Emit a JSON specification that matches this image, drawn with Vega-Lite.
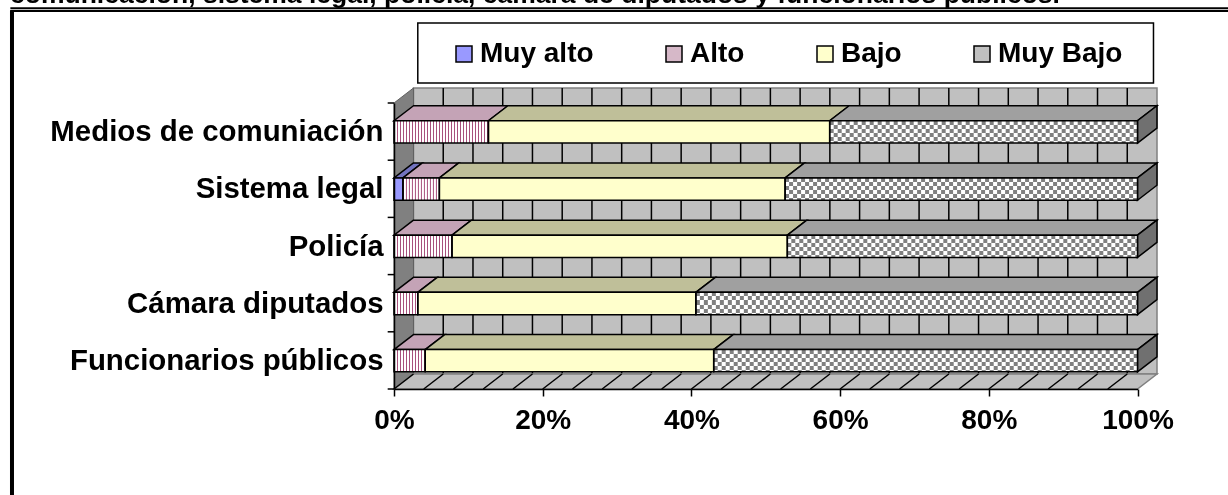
{"$schema":"https://vega.github.io/schema/vega-lite/v6.json",
"width":743.5,"height":286,"autosize":{"type":"none"},
"padding":{"left":394,"top":103,"right":90.5,"bottom":106},
"background":"white",
"config":{"view":{"stroke":null},"font":"Liberation Sans"},
"title":{"text":"comunicación, sistema legal, policía, cámara de diputados y funcionarios públicos.","anchor":"start","frame":"group","dx":-384,"offset":-22,"baseline":"alphabetic","font":"Liberation Sans","fontSize":26.5,"fontWeight":"bold","color":"black","limit":2000},
"resolve":{"axis":{"x":"independent","y":"independent"}},
"datasets":{
"grid":[{"t":0},{"t":4},{"t":8},{"t":12},{"t":16},{"t":20},{"t":24},{"t":28},{"t":32},{"t":36},{"t":40},{"t":44},{"t":48},{"t":52},{"t":56},{"t":60},{"t":64},{"t":68},{"t":72},{"t":76},{"t":80},{"t":84},{"t":88},{"t":92},{"t":96},{"t":100}],
"depth":[{"d":0},{"d":1}],
"band":[{"n":0},{"n":1},{"n":2},{"n":3},{"n":4},{"n":5}]
},
"data":{"values":[
{"cat":"Medios de comuniación","serie":"Alto","valor":12.7},
{"cat":"Medios de comuniación","serie":"Bajo","valor":45.9},
{"cat":"Medios de comuniación","serie":"Muy Bajo","valor":41.4},
{"cat":"Sistema legal","serie":"Muy alto","valor":1.2},
{"cat":"Sistema legal","serie":"Alto","valor":4.9},
{"cat":"Sistema legal","serie":"Bajo","valor":46.5},
{"cat":"Sistema legal","serie":"Muy Bajo","valor":47.4},
{"cat":"Policía","serie":"Alto","valor":7.8},
{"cat":"Policía","serie":"Bajo","valor":45.1},
{"cat":"Policía","serie":"Muy Bajo","valor":47.1},
{"cat":"Cámara diputados","serie":"Alto","valor":3.2},
{"cat":"Cámara diputados","serie":"Bajo","valor":37.4},
{"cat":"Cámara diputados","serie":"Muy Bajo","valor":59.4},
{"cat":"Funcionarios públicos","serie":"Alto","valor":4.2},
{"cat":"Funcionarios públicos","serie":"Bajo","valor":38.8},
{"cat":"Funcionarios públicos","serie":"Muy Bajo","valor":57.0}
]},
"transform":[
{"calculate":"indexof(['Muy alto','Alto','Bajo','Muy Bajo'],datum.serie)","as":"orden"},
{"stack":"valor","groupby":["cat"],"sort":[{"field":"orden","order":"ascending"}],"as":["ini","fin"]},
{"calculate":"indexof(['Funcionarios públicos','Cámara diputados','Policía','Sistema legal','Medios de comuniación'],datum.cat)","as":"i"},
{"calculate":"datum.i+0.3","as":"lo"},
{"calculate":"datum.i+0.69","as":"hi"},
{"calculate":"datum.i+0.495","as":"mid"},
{"calculate":"datum.cat+datum.serie","as":"clave"}
],
"layer":[
{"data":{"values":[{"a":-51.6,"b":112.2,"c":6.608}]},"mark":{"type":"rule","stroke":"black","strokeWidth":2},"encoding":{"x":{"field":"a","type":"quantitative","axis":null,"scale":{"domain":[0,100],"nice":false,"zero":false}},"x2":{"field":"b"},"y":{"field":"c","type":"quantitative","axis":null,"scale":{"domain":[0,5],"nice":false,"zero":false}}}},
{"data":{"values":[{"a":-51.6,"b":112.2,"c":6.655}]},"mark":{"type":"rule","stroke":"black","strokeWidth":2},"encoding":{"x":{"field":"a","type":"quantitative","axis":null},"x2":{"field":"b"},"y":{"field":"c","type":"quantitative","axis":null}}},
{"data":{"values":[{"a":-51.38,"c":6.62,"e":-1.9}]},"mark":{"type":"rule","stroke":"black","strokeWidth":4},"encoding":{"x":{"field":"a","type":"quantitative","axis":null},"y":{"field":"c","type":"quantitative","axis":null},"y2":{"field":"e"}}},
{"data":{"values":[{"a":3.2,"b":102.15,"c":6.4,"e":5.35}]},"mark":{"type":"rect","fill":"white","stroke":"black","strokeWidth":1.5},"encoding":{"x":{"field":"a","type":"quantitative","axis":null},"x2":{"field":"b"},"y":{"field":"c","type":"quantitative","axis":null},"y2":{"field":"e"}}},
{"data":{"values":[{"a":0,"b":100,"c":0,"e":5}]},"mark":{"type":"rect","fill":"#c0c0c0","stroke":"#808080","strokeWidth":1.5,"xOffset":19.5,"yOffset":-15,"x2Offset":19.5,"y2Offset":-15},"encoding":{"x":{"field":"a","type":"quantitative","axis":null},"x2":{"field":"b"},"y":{"field":"c","type":"quantitative","axis":null},"y2":{"field":"e"}}},
{"data":{"name":"grid"},"transform":[{"filter":"datum.t>0 && datum.t<100"}],"mark":{"type":"rule","stroke":"black","strokeWidth":1.5,"xOffset":19.5,"yOffset":-15,"y2Offset":-15},"encoding":{"x":{"field":"t","type":"quantitative","axis":null},"y":{"datum":0,"type":"quantitative","axis":null},"y2":{"datum":5}}},
{"data":{"name":"depth"},"transform":[{"calculate":"2.62*datum.d","as":"px"},{"calculate":"0.262*datum.d","as":"py"},{"calculate":"datum.py+5","as":"py2"}],"mark":{"type":"area","orient":"vertical","fill":"#808080","stroke":"#606060","strokeWidth":1},"encoding":{"x":{"field":"px","type":"quantitative","axis":null},"y":{"field":"py","type":"quantitative","axis":null},"y2":{"field":"py2"}}},
{"data":{"name":"depth"},"transform":[{"calculate":"2.62*datum.d","as":"px"},{"calculate":"100+datum.px","as":"px2"},{"calculate":"0.262*datum.d","as":"py"}],"mark":{"type":"area","orient":"horizontal","fill":"#c0c0c0","stroke":"#808080","strokeWidth":1.5},"encoding":{"x":{"field":"px","type":"quantitative","axis":null},"x2":{"field":"px2"},"y":{"field":"py","type":"quantitative","axis":null}}},
{"data":{"name":"grid"},"transform":[{"filter":"datum.t<100"},{"calculate":"datum.t+2.62","as":"t2"}],"mark":{"type":"rule","stroke":"black","strokeWidth":1.5},"encoding":{"x":{"field":"t","type":"quantitative","axis":null},"x2":{"field":"t2"},"y":{"datum":0,"type":"quantitative","axis":null},"y2":{"datum":0.262}}},
{"data":{"name":"band"},"transform":[{"calculate":"-0.85","as":"a"},{"calculate":"0","as":"b"}],"mark":{"type":"rule","stroke":"black","strokeWidth":1.5},"encoding":{"x":{"field":"a","type":"quantitative","axis":null},"x2":{"field":"b"},"y":{"field":"n","type":"quantitative","axis":null}}},
{"transform":[{"fold":["lo","hi"],"as":["k","v"]},{"calculate":"datum.k=='hi'?1:0","as":"d"},{"calculate":"datum.hi+0.262*datum.d","as":"ty"},{"calculate":"datum.ini+2.62*datum.d","as":"tx"},{"calculate":"datum.fin+2.62*datum.d","as":"tx2"}],"mark":{"type":"area","orient":"horizontal","stroke":"black","strokeWidth":1.5},"encoding":{"x":{"field":"tx","type":"quantitative","axis":null},"x2":{"field":"tx2"},"y":{"field":"ty","type":"quantitative","axis":null},"detail":{"field":"clave"},"fill":{"condition":[{"test":"datum.serie=='Muy alto'","value":"#7373bf"},{"test":"datum.serie=='Alto'","value":"#c4a3b6"},{"test":"datum.serie=='Bajo'","value":"#bfbf99"}],"value":"#a0a0a0"}}},
{"transform":[{"filter":"datum.serie=='Muy Bajo'"},{"fold":["lo","hi"],"as":["k","v"]},{"calculate":"datum.k=='hi'?1:0","as":"d"},{"calculate":"100+2.62*datum.d","as":"sx"},{"calculate":"datum.lo+0.262*datum.d","as":"sy"},{"calculate":"datum.hi+0.262*datum.d","as":"sy2"}],"mark":{"type":"area","orient":"vertical","fill":"#707070","stroke":"black","strokeWidth":1.5},"encoding":{"x":{"field":"sx","type":"quantitative","axis":null},"y":{"field":"sy","type":"quantitative","axis":null},"y2":{"field":"sy2"},"detail":{"field":"clave"}}},
{"mark":{"type":"rect"},"encoding":{
"x":{"field":"ini","type":"quantitative","axis":{"values":[0,20,40,60,80,100],"labelExpr":"datum.value+'%'","title":null,"grid":false,"zindex":1,"domainColor":"black","domainWidth":1.5,"tickColor":"black","tickWidth":1.5,"tickSize":7,"labelPadding":10,"labelFont":"Liberation Sans","labelFontSize":28,"labelFontWeight":"bold","labelColor":"black","labelOverlap":false,"labelFlush":false}},
"x2":{"field":"fin"},
"y":{"field":"lo","type":"quantitative","axis":{"values":[0.5,1.5,2.5,3.5,4.5],"labelExpr":"['Funcionarios públicos','Cámara diputados','Policía','Sistema legal','Medios de comuniación'][floor(datum.value)]","title":null,"grid":false,"zindex":1,"ticks":false,"domainColor":"black","domainWidth":1.5,"labelPadding":11,"labelLimit":400,"labelFont":"Liberation Sans","labelFontSize":29.4,"labelFontWeight":"bold","labelColor":"black","labelOverlap":false}},
"y2":{"field":"hi"},
"fill":{"field":"serie","type":"nominal","scale":{"domain":["Muy alto","Alto","Bajo","Muy Bajo"],"range":["#9999ff","#d6b8c8","#ffffcc","#c0c0c0"]},
"legend":{"orient":"none","legendX":56,"legendY":-63,"direction":"horizontal","columns":4,"title":null,"symbolType":"square","symbolSize":256,"symbolStrokeColor":"black","symbolStrokeWidth":1.5,"symbolOpacity":1,"columnPadding":66,"labelOffset":2,"labelFont":"Liberation Sans","labelFontSize":28,"labelFontWeight":"bold","labelColor":"black","labelLimit":300,"padding":0}}
}},
{"transform":[{"filter":"datum.serie=='Alto' || datum.serie=='Muy Bajo'"}],"mark":{"type":"rect","fill":"white"},"encoding":{"x":{"field":"ini","type":"quantitative","axis":null},"x2":{"field":"fin"},"y":{"field":"lo","type":"quantitative","axis":null},"y2":{"field":"hi"}}},
{"transform":[{"filter":"datum.serie=='Alto'"}],"mark":{"type":"rule","stroke":"#993366","strokeWidth":22,"strokeDash":[1,2],"opacity":0.85},"encoding":{"x":{"field":"ini","type":"quantitative","axis":null},"x2":{"field":"fin"},"y":{"field":"mid","type":"quantitative","axis":null}}},
{"transform":[{"filter":"datum.serie=='Muy Bajo'"}],"mark":{"type":"rule","stroke":"black","strokeWidth":22,"strokeDash":[4,4]},"encoding":{"x":{"field":"ini","type":"quantitative","axis":null},"x2":{"field":"fin"},"y":{"field":"mid","type":"quantitative","axis":null}}},
{"transform":[{"filter":"datum.serie=='Muy Bajo'"}],"mark":{"type":"rect","blend":"difference","fill":{"gradient":"linear","x1":0,"y1":0,"x2":0,"y2":1,"stops":[{"offset":0,"color":"#000"},{"offset":0.18,"color":"#000"},{"offset":0.18,"color":"#fff"},{"offset":0.36,"color":"#fff"},{"offset":0.36,"color":"#000"},{"offset":0.55,"color":"#000"},{"offset":0.55,"color":"#fff"},{"offset":0.73,"color":"#fff"},{"offset":0.73,"color":"#000"},{"offset":0.91,"color":"#000"},{"offset":0.91,"color":"#fff"},{"offset":1,"color":"#fff"}]}},"encoding":{"x":{"field":"ini","type":"quantitative","axis":null},"x2":{"field":"fin"},"y":{"field":"lo","type":"quantitative","axis":null},"y2":{"field":"hi"}}},
{"transform":[{"filter":"datum.serie=='Muy Bajo'"}],"mark":{"type":"rect","fill":"white","opacity":0.5},"encoding":{"x":{"field":"ini","type":"quantitative","axis":null},"x2":{"field":"fin"},"y":{"field":"lo","type":"quantitative","axis":null},"y2":{"field":"hi"}}},
{"mark":{"type":"rect","fillOpacity":0,"stroke":"black","strokeWidth":1.5},"encoding":{"x":{"field":"ini","type":"quantitative","axis":null},"x2":{"field":"fin"},"y":{"field":"lo","type":"quantitative","axis":null},"y2":{"field":"hi"}}}
]}
